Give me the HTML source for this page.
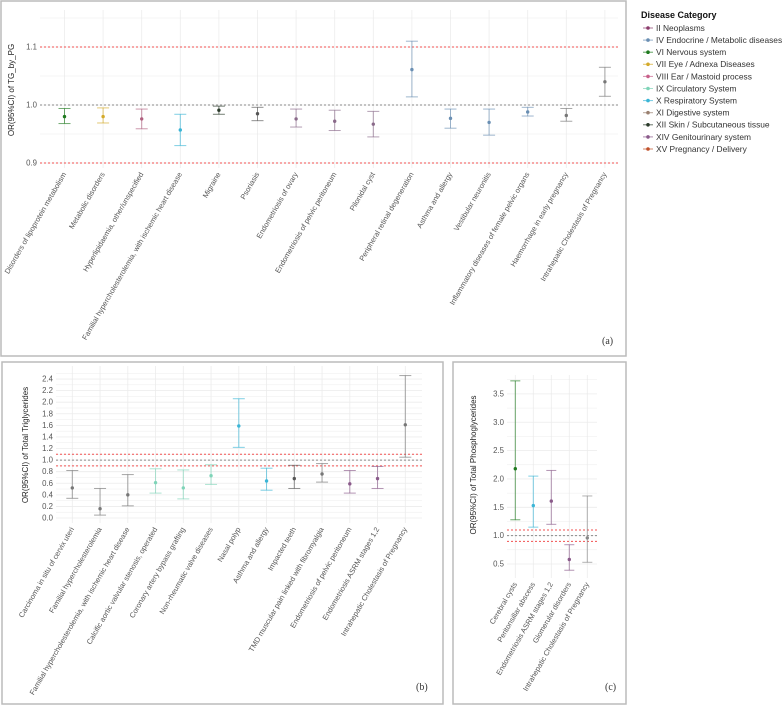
<!DOCTYPE html>
<html><head><meta charset="utf-8"><style>
body{margin:0;background:#fff}
svg{display:block;font-family:"Liberation Sans",sans-serif}
</style></head><body>
<svg id="s" width="784" height="706" viewBox="0 0 784 706"></svg>
<script>
const catsA=["Disorders of lipoprotein metabolism","Metabolic disorders","Hyperlipidaemia, other/unspecified","Familial hypercholesterolemia, with ischemic heart disease","Migraine","Psoriasis","Endometriosis of ovary","Endometriosis of pelvic peritoneum","Pilonidal cyst","Peripheral retinal degeneration","Asthma and allergy","Vestibular neuronitis","Inflammatory diseases of female pelvic organs","Haemorrhage in early pregnancy","Intrahepatic Cholestasis of Pregnancy"];
const orA=[0.980,0.980,0.976,0.957,0.991,0.985,0.976,0.972,0.967,1.061,0.977,0.970,0.988,0.982,1.040];
const loA=[0.968,0.969,0.959,0.930,0.984,0.973,0.962,0.956,0.945,1.014,0.960,0.948,0.981,0.972,1.015];
const hiA=[0.994,0.995,0.993,0.984,0.998,0.996,0.993,0.991,0.989,1.110,0.993,0.993,0.996,0.994,1.065];
const colA=["#1f7a1f","#d4aa2a","#b0607f","#3bb5d6","#2a3a2a","#555","#8a6a8a","#8a6a8a","#8a6a8a","#6a8fb3","#6a8fb3","#6a8fb3","#6a8fb3","#777","#777"];
const ticksA=[0.9,1.0,1.1];

const catsB=["Carcinoma in situ of cervix uteri","Familial hypercholesterolemia","Familial hypercholesterolemia, with ischemic heart disease","Calcific aortic valvular stenosis, operated","Coronary artery bypass grafting","Non-rheumatic valve diseases","Nasal polyp","Asthma and allergy","Impacted teeth","TMD muscular pain linked with fibromyalgia","Endometriosis of pelvic peritoneum","Endometriosis ASRM stages 1,2","Intrahepatic Cholestasis of Pregnancy"];
const orB=[0.52,0.16,0.40,0.61,0.52,0.73,1.59,0.64,0.68,0.76,0.59,0.68,1.61];
const loB=[0.34,0.05,0.21,0.43,0.33,0.58,1.22,0.48,0.51,0.62,0.43,0.51,1.05];
const hiB=[0.82,0.51,0.75,0.85,0.83,0.92,2.06,0.86,0.91,0.94,0.82,0.89,2.46];
const colB=["#777","#777","#777","#7fd4b8","#7fd4b8","#7fd4b8","#3bb5d6","#3bb5d6","#555","#777","#8a5a8a","#8a5a8a","#777"];
const ticksB=[0.0,0.2,0.4,0.6,0.8,1.0,1.2,1.4,1.6,1.8,2.0,2.2,2.4];

const catsC=["Cerebral cysts","Peritonsillar abscess","Endometriosis ASRM stages 1,2","Glomerular disorders","Intrahepatic Cholestasis of Pregnancy"];
const orC=[2.18,1.53,1.61,0.58,0.96];
const loC=[1.28,1.15,1.20,0.39,0.53];
const hiC=[3.73,2.05,2.15,0.84,1.70];
const colC=["#1f7a1f","#3bb5d6","#8a5a8a","#8a5a8a","#888"];
const ticksC=[0.5,1.0,1.5,2.0,2.5,3.0,3.5];

const legNames=["II Neoplasms","IV Endocrine / Metabolic diseases","VI Nervous system","VII Eye / Adnexa Diseases","VIII Ear / Mastoid process","IX Circulatory System","X Respiratory System","XI Digestive system","XII Skin / Subcutaneous tissue","XIV Genitourinary system","XV Pregnancy / Delivery"];
const legCols=["#8b3a6b","#6a8fb3","#1f7a1f","#d4aa2a","#c8608a","#7fd4b8","#3bb5d6","#9a8070","#2a3a2a","#8a5a8a","#c0502a"];

const svg=document.getElementById('s');const NS="http://www.w3.org/2000/svg";
function mk(t,a,p){const e=document.createElementNS(NS,t);for(const k in a)e.setAttribute(k,a[k]);(p||svg).appendChild(e);return e;}

function panel(o){
  const g=mk('g',{});
  
  
  const box=mk('rect',{x:o.box[0],y:o.box[1],width:o.box[2],height:o.box[3],fill:'#fff',stroke:'#bbb','stroke-width':1.5},g);
  
  
  const y=v=>o.y0+(v-o.v0)*o.ky;
  const x=i=>o.x0+i*o.dx;
  for(let i=0;i<o.ticks.length;i++){
    const t=o.ticks[i];const step=o.ticks[1]-o.ticks[0];
    [t, t+step/2].forEach((v,j)=>{const yy=y(v);if(yy<o.top||yy>o.bot)return;
      const l=mk('line',{x1:o.left,x2:o.right,y1:yy,y2:yy,stroke:'#ececec','stroke-width':j?0.5:0.8},g);
      
      });
    const yb=y(t-step/2); if(i==0&&yb<=o.bot){const l=mk('line',{x1:o.left,x2:o.right,y1:yb,y2:yb,stroke:'#ececec','stroke-width':0.5},g);
      
      }
  }
  o.cats.forEach((c,i)=>{const l=mk('line',{x1:x(i),x2:x(i),y1:o.top,y2:o.bot,stroke:'#ececec','stroke-width':0.8},g);
    
    });
  o.ticks.forEach(t=>{const tx=mk('text',{x:o.left-3,y:y(t)+2.5,'font-size':7.8,fill:'#555','text-anchor':'end'},g);tx.textContent=o.fmt(t);
    
    });
  [[1.1,'#f05050'],[1.0,'#888'],[0.9,'#f05050']].forEach(r=>{const l=mk('line',{x1:o.left,x2:o.right,y1:y(r[0]),y2:y(r[0]),stroke:r[1],'stroke-width':1,'stroke-dasharray':'2,2'},g);
    
    });
  o.cats.forEach((c,i)=>{
    const xx=x(i),col=o.col[i],w=o.cap;
    const eb=mk('g',{stroke:col,'stroke-width':1,'stroke-opacity':0.65},g);
    
    
    mk('line',{x1:xx,x2:xx,y1:y(o.lo[i]),y2:y(o.hi[i])},eb);
    mk('line',{x1:xx-w,x2:xx+w,y1:y(o.lo[i]),y2:y(o.lo[i])},eb);
    mk('line',{x1:xx-w,x2:xx+w,y1:y(o.hi[i]),y2:y(o.hi[i])},eb);
    const p=mk('circle',{cx:xx,cy:y(o.or[i]),r:1.7,fill:col},g);
    
    
    const t=mk('text',{x:xx+2,y:o.bot+6,'font-size':7.4,fill:'#555','text-anchor':'end',transform:`rotate(-60 ${xx+2} ${o.bot+6})`},g);
    t.textContent=c;
    
    
  });
  const yt=mk('text',{x:o.yt[0],y:o.yt[1],'font-size':8,fill:'#222','text-anchor':'middle',transform:`rotate(-90 ${o.yt[0]} ${o.yt[1]})`},g);
  yt.textContent=o.ytitle;
  
  
  const pl=mk('text',{x:o.pl[0],y:o.pl[1],'font-size':10,fill:'#333','font-family':'Liberation Serif, serif'},g);
  pl.textContent=o.plabel;
  
  
}
panel({name:'panel-a',box:[1,1,625,355],cats:catsA,or:orA,lo:loA,hi:hiA,col:colA,ticks:ticksA,
  y0:105,v0:1.0,ky:-580,x0:64.5,dx:38.6,left:40,right:618,top:10,bot:168,cap:6,fmt:v=>v.toFixed(1),
  yt:[14,90],ytitle:'OR(95%CI) of TG_by_PG',pl:[602,344],plabel:'(a)'});
panel({name:'panel-b',box:[2,362,441,342],cats:catsB,or:orB,lo:loB,hi:hiB,col:colB,ticks:ticksB,
  y0:518,v0:0,ky:-57.9,x0:72.3,dx:27.75,left:56,right:422,top:366,bot:523,cap:6,fmt:v=>v.toFixed(1),
  yt:[28,445],ytitle:'OR(95%CI) of Total Triglycerides',pl:[416,690],plabel:'(b)'});
panel({name:'panel-c',box:[453,362,173,342],cats:catsC,or:orC,lo:loC,hi:hiC,col:colC,ticks:ticksC,
  y0:564,v0:0.5,ky:-56.7,x0:515.3,dx:18,left:507,right:597,top:375,bot:578,cap:5,fmt:v=>v.toFixed(1),
  yt:[476,465],ytitle:'OR(95%CI) of Total Phosphoglycerides',pl:[605,690],plabel:'(c)'});

const lg=mk('g',{});


const lt=mk('text',{x:641,y:18,'font-size':9,'font-weight':'bold',fill:'#111'},lg);lt.textContent='Disease Category';


legNames.forEach((n,i)=>{
  const yy=28+i*12.1;
  const e=mk('g',{},lg);
  
  
  mk('line',{x1:643,x2:653,y1:yy,y2:yy,stroke:legCols[i],'stroke-width':1,'stroke-opacity':0.7},e);
  mk('circle',{cx:648,cy:yy,r:1.8,fill:legCols[i]},e);
  const t=mk('text',{x:656,y:yy+2.9,'font-size':8.4,fill:'#333'},e);t.textContent=n;
});
</script>
</body></html>
